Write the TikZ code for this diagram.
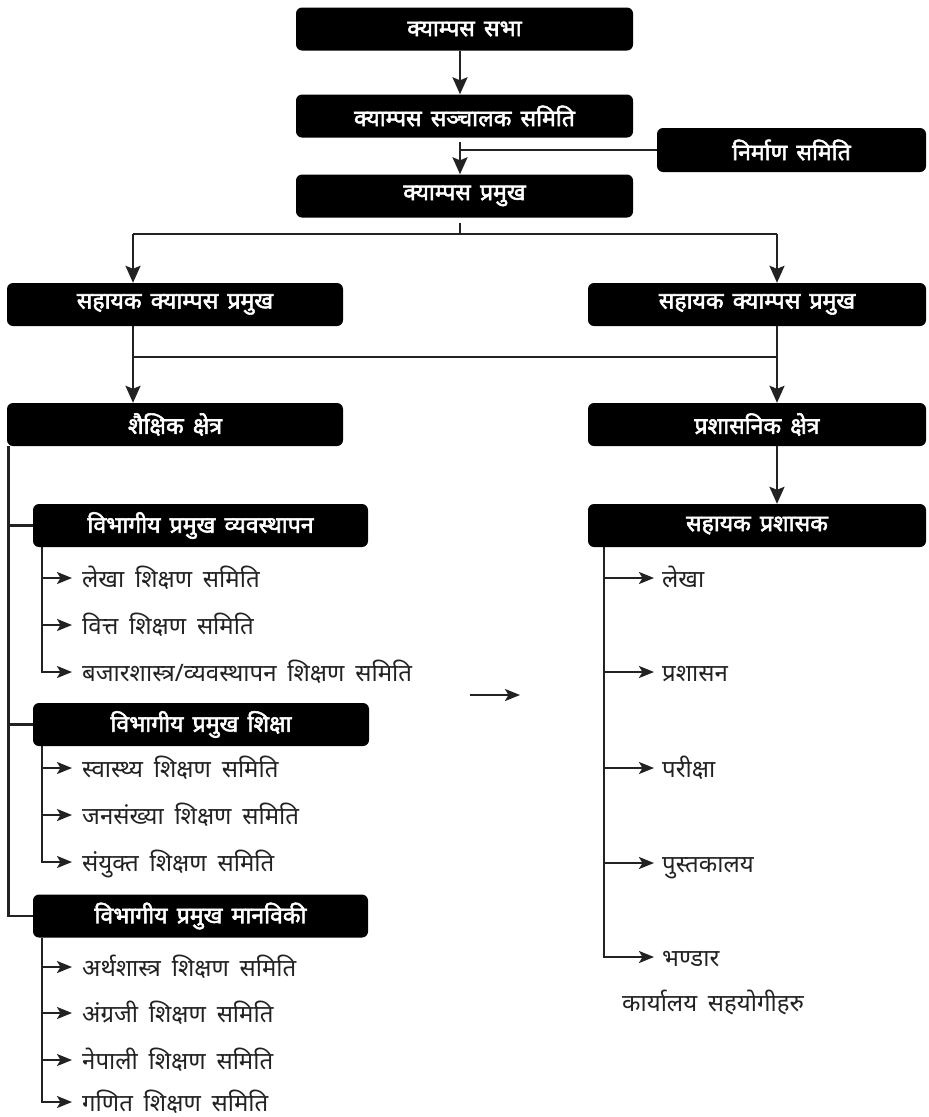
\documentclass[tikz,border=0pt]{standalone}
\usepackage{fontspec}
\newfontfamily\dev[Script=Devanagari]{Noto Sans}
\newfontfamily\devb[Script=Devanagari,FakeBold=2.4]{Noto Sans}
\newcommand\myboxfont{\devb\fontsize{23}{26}\selectfont\spaceskip 0.4em\relax}
\newcommand\myitemfont{\dev\fontsize{24}{28}\selectfont\spaceskip 0.45em\relax}
\usetikzlibrary{arrows.meta,calc}
\definecolor{ln}{HTML}{222222}
\begin{document}
\begin{tikzpicture}[x=1pt,y=-1pt,
 box/.style={fill=black,rounded corners=6pt,text=white,inner sep=0pt,minimum height=43pt,font=\myboxfont},
 item/.style={anchor=base west,inner sep=0pt,text=ln,font=\myitemfont},
 line/.style={draw=ln,line width=2.2pt},
 arr/.style={line,-{Stealth[length=17pt,width=15pt,inset=3pt]}},
 sarr/.style={line,-{Stealth[length=15pt,width=12pt,inset=3.5pt]}}]
\useasboundingbox (0,0) rectangle (929,1117);
% boxes
\node[box,minimum width=337pt] (sabha) at (464.5,29) {क्याम्पस सभा};
\node[box,minimum width=337pt] (sanch) at (464.5,116) {क्याम्पस सञ्चालक समिति};
\node[box,minimum width=269pt,minimum height=44pt] (nirman) at (791.5,150) {निर्माण समिति};
\node[box,minimum width=337pt] (pram) at (464.5,196) {क्याम्पस प्रमुख};
\node[box,minimum width=336pt] (sahL) at (175,304.5) {सहायक क्याम्पस प्रमुख};
\node[box,minimum width=338pt] (sahR) at (757,304.5) {सहायक क्याम्पस प्रमुख};
\node[box,minimum width=336pt] (shaik) at (175,424.5) {शैक्षिक क्षेत्र};
\node[box,minimum width=338pt] (prash) at (757,424.5) {प्रशासनिक क्षेत्र};
\node[box,minimum width=335pt] (vyav) at (200.5,525.5) {विभागीय प्रमुख व्यवस्थापन};
\node[box,minimum width=336pt] (shiksha) at (201,724.5) {विभागीय प्रमुख शिक्षा};
\node[box,minimum width=335pt] (manav) at (200.5,916) {विभागीय प्रमुख मानविकी};
\node[box,minimum width=338pt] (sahpr) at (757,525.5) {सहायक प्रशासक};
% coordinates
\coordinate (c) at (460,0);
\coordinate (L) at (133,0);
\coordinate (R) at (777,0);
\coordinate (m) at (0,357);
\coordinate (sp) at (8.5,446);
\coordinate (sb) at (42,0);
\coordinate (rb) at (604,0);
% top
\draw[arr] (sabha.south -| c) -- (sanch.north -| c);
\draw[arr] ([yshift=-4pt]sanch.south -| c) -- (pram.north -| c);
\draw[line] (nirman.west) -- (nirman.west -| c);
\draw[line] ([yshift=-5pt]pram.south -| c) -- ++(0,11) coordinate (h);
\draw[line] (L |- h) -- (R |- h);
\draw[arr] (L |- h) -- (L |- sahL.north);
\draw[arr] (R |- h) -- (R |- sahR.north);
\draw[arr] (L |- sahL.south) -- (L |- shaik.north);
\draw[arr] (R |- sahR.south) -- (R |- prash.north);
\draw[line] (L |- m) -- (R |- m);
\draw[arr] (R |- prash.south) -- (R |- sahpr.north);
% left spine
\draw[line] (sp) -- (sp |- manav.west) -- (manav.west);
\draw[line] (sp |- vyav.west) -- (vyav.west);
\draw[line] (sp |- shiksha.west) -- (shiksha.west);
% items (base = arrow y + 9)
\begin{scope}[every node/.style={item}]
\node (a1) at (82,587) {लेखा शिक्षण समिति};
\node (a2) at (82,634) {वित्त शिक्षण समिति};
\node (a3) at (82,681) {बजारशास्त्र/व्यवस्थापन शिक्षण समिति};
\node (b1) at (82,777) {स्वास्थ्य शिक्षण समिति};
\node (b2) at (82,824) {जनसंख्या शिक्षण समिति};
\node (b3) at (82,871) {संयुक्त शिक्षण समिति};
\node (d1) at (82,976) {अर्थशास्त्र शिक्षण समिति};
\node (d2) at (82,1022) {अंग्रजी शिक्षण समिति};
\node (d3) at (82,1069) {नेपाली शिक्षण समिति};
\node (d4) at (82,1111) {गणित शिक्षण समिति};
\node (r1) at (662,587) {लेखा};
\node (r2) at (662,681) {प्रशासन};
\node (r3) at (662,777) {परीक्षा};
\node (r4) at (662,872) {पुस्तकालय};
\node (r5) at (662,966) {भण्डार};
\node (cap) at (622,1011) {कार्यालय सहयोगीहरु};
\end{scope}
% item arrows
\tikzset{tipL/.style={shift={(-10pt,9pt)}},tipR/.style={shift={(-8pt,9pt)}}}
\draw[sarr] (sb |- vyav.south) |- ([tipL]a3.base west);
\draw[sarr] (sb |- a1.base) ++(0,-9) -- ([tipL]a1.base west);
\draw[sarr] (sb |- a2.base) ++(0,-9) -- ([tipL]a2.base west);
\draw[sarr] (sb |- shiksha.south) |- ([tipL]b3.base west);
\draw[sarr] (sb |- b1.base) ++(0,-9) -- ([tipL]b1.base west);
\draw[sarr] (sb |- b2.base) ++(0,-9) -- ([tipL]b2.base west);
\draw[sarr] (sb |- manav.south) |- ([tipL]d4.base west);
\draw[sarr] (sb |- d1.base) ++(0,-9) -- ([tipL]d1.base west);
\draw[sarr] (sb |- d2.base) ++(0,-9) -- ([tipL]d2.base west);
\draw[sarr] (sb |- d3.base) ++(0,-9) -- ([tipL]d3.base west);
\draw[sarr] (rb |- sahpr.south) |- ([tipR]r5.base west);
\draw[sarr] (rb |- r1.base) ++(0,-9) -- ([tipR]r1.base west);
\draw[sarr] (rb |- r2.base) ++(0,-9) -- ([tipR]r2.base west);
\draw[sarr] (rb |- r3.base) ++(0,-9) -- ([tipR]r3.base west);
\draw[sarr] (rb |- r4.base) ++(0,-9) -- ([tipR]r4.base west);
% stray arrow
\coordinate (s1) at (470,695);
\coordinate (s2) at (520,695);
\draw[sarr] (s1) -- (s2);
\end{tikzpicture}
\end{document}
